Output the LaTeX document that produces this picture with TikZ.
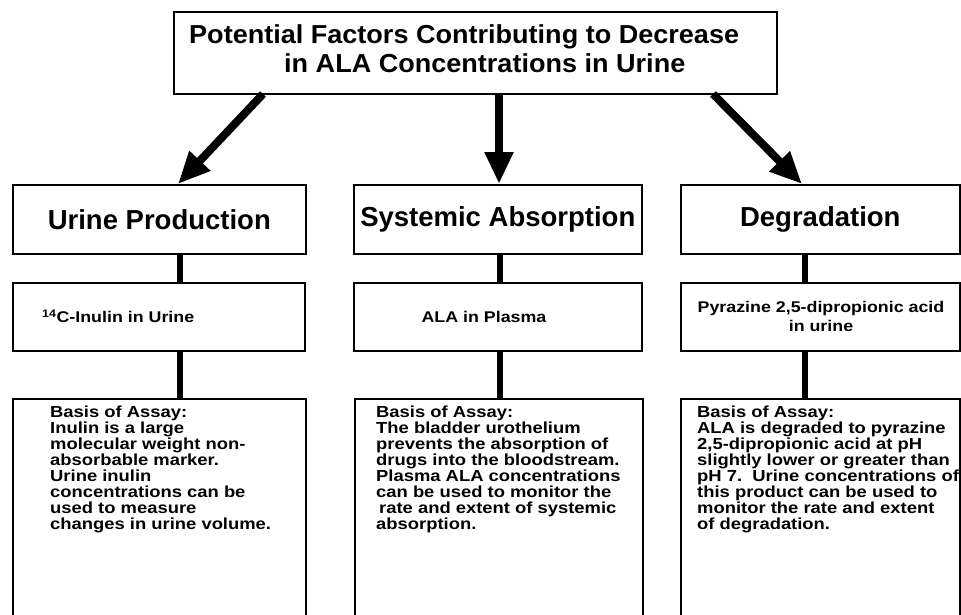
\documentclass[tikz,border=0pt]{standalone}
\usepackage{fontspec}
\setmainfont{Liberation Sans}
\newfontfamily\titlef{Liberation Sans}[FakeStretch=1.04]
\newfontfamily\headf{Liberation Sans}
\newfontfamily\bodyf{Liberation Sans}[FakeStretch=1.15]
\usetikzlibrary{arrows.meta}
\begin{document}
\begin{tikzpicture}[x=1pt,y=-1pt,
  box/.style={draw, line width=1.6pt, anchor=north west, inner sep=0pt},
  link/.style={line width=6pt},
  arr/.style={line width=8pt, -{Triangle[length=32pt,width=27pt]}},
  ttl/.style={font=\titlef\bfseries\fontsize{26}{29}\selectfont, anchor=base west, inner sep=0pt},
  head/.style={font=\headf\bfseries\fontsize{27.5}{30}\selectfont},
  mid/.style={font=\bodyf\bfseries\fontsize{15.5}{19}\selectfont, inner sep=0pt, align=center},
  body/.style={font=\bodyf\bfseries\fontsize{16}{16}\selectfont, anchor=north west, inner sep=0pt, align=left}]
\useasboundingbox (0,0) rectangle (961,614);
\clip (0,0) rectangle (961,614);
\fill[white] (0,0) rectangle (961,614);
% top box
\node[box, minimum width=603pt, minimum height=82pt] (top) at (173,11) {};
\node[ttl] (t1) at (189,43) {Potential Factors Contributing to Decrease};
\node[ttl] (t2) at (284,72) {in ALA Concentrations in Urine};
% level 1
\node[box, head, minimum width=293pt, minimum height=69pt] (h1) at (12,184) {Urine Production};
\node[box, head, minimum width=288pt, minimum height=69pt] (h2) at (353,184) {Systemic Absorption};
\node[box, head, minimum width=279pt, minimum height=69pt] (h3) at (680,184) {Degradation};
% level 2
\node[box, minimum width=292pt, minimum height=68pt] (m1) at (12,282) {};
\node[box, minimum width=288pt, minimum height=68pt] (m2) at (353,282) {};
\node[box, minimum width=279pt, minimum height=68pt] (m3) at (680,282) {};
\node[mid, anchor=west] (l1) at (42,316) {\textsuperscript{14}C-Inulin in Urine};
\node[mid] (l2) at (484,317) {ALA in Plasma};
\node[mid] (l3) at (821,316) {Pyrazine 2,5-dipropionic acid\\in urine};
% level 3
\node[box, minimum width=293pt, minimum height=240pt] (b1) at (12,398) {};
\node[box, minimum width=288pt, minimum height=240pt] (b2) at (354,398) {};
\node[box, minimum width=279pt, minimum height=240pt] (b3) at (680,398) {};
\node[body] (x1) at (50,406) {Basis of Assay:\\Inulin is a large\\molecular weight non-\\absorbable marker.\\Urine inulin\\concentrations can be\\used to measure\\changes in urine volume.};
\node[body] (x2) at (376,406) {Basis of Assay:\\The bladder urothelium\\prevents the absorption of\\drugs into the bloodstream.\\Plasma ALA concentrations\\can be used to monitor the\\\hspace*{3pt}rate and extent of systemic\\absorption.};
\node[body] (x3) at (697,406) {Basis of Assay:\\ALA is degraded to pyrazine\\2,5-dipropionic acid at pH\\slightly lower or greater than\\pH 7.\ \ Urine concentrations of\\this product can be used to\\monitor the rate and extent\\of degradation.};
% arrows
\coordinate (s1) at (263,94); \coordinate (e1) at (178,184);
\coordinate (s2) at (499,94); \coordinate (e2) at (499,184);
\coordinate (s3) at (713,94); \coordinate (e3) at (802,184);
\draw[arr] (s1) -- (e1);
\draw[arr] (s2) -- (e2);
\draw[arr] (s3) -- (e3);
% connectors
\coordinate (c1) at (180,0); \coordinate (c2) at (500,0); \coordinate (c3) at (805,0);
\draw[link] (h1.south -| c1) -- (m1.north -| c1);
\draw[link] (m1.south -| c1) -- (b1.north -| c1);
\draw[link] (h2.south -| c2) -- (m2.north -| c2);
\draw[link] (m2.south -| c2) -- (b2.north -| c2);
\draw[link] (h3.south -| c3) -- (m3.north -| c3);
\draw[link] (m3.south -| c3) -- (b3.north -| c3);
\end{tikzpicture}
\end{document}
